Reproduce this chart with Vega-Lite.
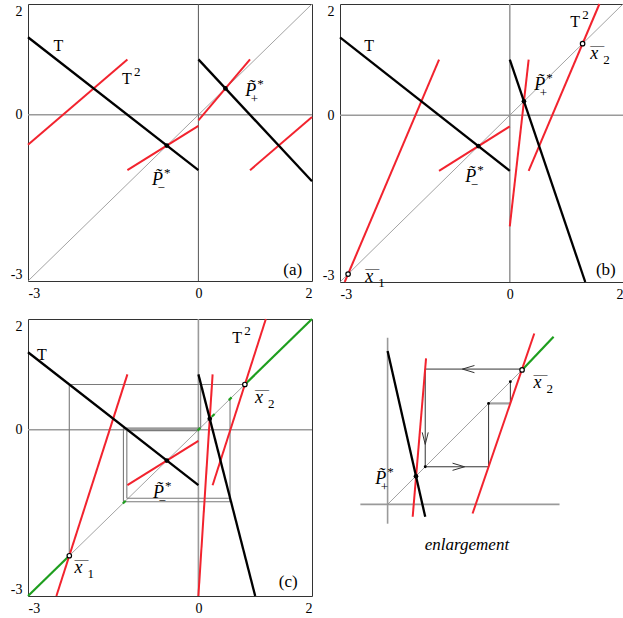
{
"$schema":"https://vega.github.io/schema/vega-lite/v6.json",
"background":"white",
"padding":{"left":9,"top":2,"right":0,"bottom":0},
"config":{"view":{"stroke":"#333","strokeWidth":1},"font":"'Liberation Serif', 'Times New Roman', Times, serif","text":{"color":"#000","font":"'Liberation Serif', 'Times New Roman', Times, serif"},"axis":{"labelFont":"'Liberation Serif', 'Times New Roman', Times, serif","labelFontSize":14,"labelColor":"#000"}},
"datasets":{
"seg":[
{"p":"a","k":"ax","x":-3,"y":0,"x2":2,"y2":0},
{"p":"a","k":"axd","x":0,"y":-3,"x2":0,"y2":2},
{"p":"a","k":"diag","x":-3,"y":-3,"x2":2,"y2":2},
{"p":"a","k":"T2","x":-3,"y":-0.54,"x2":-1.25,"y2":1.0},
{"p":"a","k":"T2","x":-1.25,"y":-1.0,"x2":0,"y2":-0.2},
{"p":"a","k":"T2","x":0,"y":-0.1,"x2":0.909,"y2":1.0},
{"p":"a","k":"T2","x":0.909,"y":-1.0,"x2":2,"y2":-0.04},
{"p":"a","k":"T","x":-3,"y":1.4,"x2":0,"y2":-1.0},
{"p":"a","k":"T","x":0,"y":1.0,"x2":2,"y2":-1.2},
{"p":"b","k":"ax","x":-3,"y":0,"x2":2,"y2":0},
{"p":"b","k":"ax","x":0,"y":-3,"x2":0,"y2":2},
{"p":"b","k":"diag","x":-3,"y":-3,"x2":2,"y2":2},
{"p":"b","k":"T2","x":-2.917,"y":-3,"x2":-1.25,"y2":1.0},
{"p":"b","k":"T2","x":-1.25,"y":-1.0,"x2":0,"y2":-0.2},
{"p":"b","k":"T2","x":0,"y":-2.0,"x2":0.333,"y2":1.0},
{"p":"b","k":"T2","x":0.333,"y":-1.0,"x2":1.583,"y2":2.0},
{"p":"b","k":"T","x":-3,"y":1.4,"x2":0,"y2":-1.0},
{"p":"b","k":"T","x":0,"y":1.0,"x2":1.333,"y2":-3},
{"p":"c","k":"ax","x":-3,"y":0,"x2":2,"y2":0},
{"p":"c","k":"ax","x":0,"y":-3,"x2":0,"y2":2},
{"p":"c","k":"diag","x":-3,"y":-3,"x2":2,"y2":2},
{"p":"c","k":"cob","x":-2.273,"y":-2.273,"x2":-2.273,"y2":0.818},
{"p":"c","k":"cob","x":-2.273,"y":0.818,"x2":0.818,"y2":0.818},
{"p":"c","k":"cob","x":-1.32,"y":-1.3,"x2":-1.32,"y2":0.03},
{"p":"c","k":"cob","x":-1.32,"y":0.03,"x2":0.03,"y2":0.03},
{"p":"c","k":"cob","x":0.04,"y":0.03,"x2":0.04,"y2":0.818},
{"p":"c","k":"cob","x":-1.32,"y":-1.3,"x2":0.557,"y2":-1.3},
{"p":"c","k":"cob","x":0.557,"y":0.557,"x2":0.557,"y2":-1.3},
{"p":"c","k":"cob","x":-1.26,"y":-1.235,"x2":-1.26,"y2":-0.015},
{"p":"c","k":"cob","x":-1.26,"y":-0.015,"x2":-0.015,"y2":-0.015},
{"p":"c","k":"cob","x":-1.26,"y":-1.235,"x2":0.557,"y2":-1.235},
{"p":"c","k":"green","x":-3,"y":-3,"x2":-2.273,"y2":-2.273},
{"p":"c","k":"green","x":0.818,"y":0.818,"x2":2,"y2":2},
{"p":"c","k":"green","x":-1.33,"y":-1.33,"x2":-1.28,"y2":-1.28},
{"p":"c","k":"green","x":-0.015,"y":-0.015,"x2":0.035,"y2":0.035},
{"p":"c","k":"green","x":0.235,"y":0.235,"x2":0.285,"y2":0.285},
{"p":"c","k":"green","x":0.535,"y":0.535,"x2":0.585,"y2":0.585},
{"p":"c","k":"T2","x":-2.5,"y":-3,"x2":-1.25,"y2":1.0},
{"p":"c","k":"T2","x":-1.25,"y":-1.0,"x2":0,"y2":-0.2},
{"p":"c","k":"T2","x":0,"y":-3,"x2":0.25,"y2":1.0},
{"p":"c","k":"T2","x":0.25,"y":-1.0,"x2":1.1875,"y2":2.0},
{"p":"c","k":"T","x":-3,"y":1.4,"x2":0,"y2":-1.0},
{"p":"c","k":"T","x":0,"y":1.0,"x2":1.0,"y2":-3},
{"p":"e","k":"ax","x":0,"y":-0.117,"x2":0,"y2":1.01},
{"p":"e","k":"ax","x":-0.165,"y":0,"x2":1.042,"y2":0},
{"p":"e","k":"diag","x":0,"y":0,"x2":0.815,"y2":0.815},
{"p":"e","k":"cobk","x":0.228,"y":0.82,"x2":0.815,"y2":0.82},
{"p":"e","k":"cobk","x":0.228,"y":0.82,"x2":0.228,"y2":0.228},
{"p":"e","k":"cobk","x":0.228,"y":0.228,"x2":0.612,"y2":0.228},
{"p":"e","k":"cobk","x":0.612,"y":0.228,"x2":0.612,"y2":0.612},
{"p":"e","k":"cobg","x":0.612,"y":0.612,"x2":0.744,"y2":0.612},
{"p":"e","k":"cobk","x":0.744,"y":0.612,"x2":0.744,"y2":0.744},
{"p":"e","k":"green","x":0.815,"y":0.815,"x2":1.006,"y2":1.016},
{"p":"e","k":"T2","x":0.233,"y":0.885,"x2":0.152,"y2":-0.075},
{"p":"e","k":"T2","x":0.889,"y":1.036,"x2":0.515,"y2":-0.055},
{"p":"e","k":"T","x":0,"y":0.93,"x2":0.228,"y2":-0.075}
],
"pts":[
{"p":"a","k":"fix","x":-0.556,"y":-0.556},
{"p":"a","k":"fix","x":0.476,"y":0.476},
{"p":"b","k":"fix","x":-0.556,"y":-0.556},
{"p":"b","k":"fix","x":0.25,"y":0.25},
{"p":"b","k":"cyc","x":-2.857,"y":-2.857},
{"p":"b","k":"cyc","x":1.286,"y":1.286},
{"p":"c","k":"fix","x":-0.556,"y":-0.556},
{"p":"c","k":"fix","x":0.2,"y":0.2},
{"p":"c","k":"cyc","x":-2.273,"y":-2.273},
{"p":"c","k":"cyc","x":0.818,"y":0.818},
{"p":"e","k":"fix","x":0.172,"y":0.17},
{"p":"e","k":"cyc","x":0.815,"y":0.815},
{"p":"e","k":"dot","x":0.228,"y":0.228},
{"p":"e","k":"dot","x":0.612,"y":0.612},
{"p":"e","k":"dot","x":0.744,"y":0.744}
],
"arrows":[
{"p":"e","dir":"left","x":0.49,"y":0.82},
{"p":"e","dir":"down","x":0.228,"y":0.4},
{"p":"e","dir":"right","x":0.43,"y":0.228}
],
"lab":[
{"p":"a","x":-2.549,"y":1.146,"rom":"T"},
{"p":"a","x":-1.345,"y":0.561,"rom":"T","sup":"2"},
{"p":"a","x":0.826,"y":0.334,"it":"P̃","sup":"*","sub":"+"},
{"p":"a","x":-0.817,"y":-1.273,"it":"P̃","sup":"*","sub":"−"},
{"p":"a","x":1.662,"y":-2.883,"tag":"(a)"},
{"p":"b","x":-2.571,"y":1.155,"rom":"T"},
{"p":"b","x":1.069,"y":1.586,"rom":"T","sup":"2"},
{"p":"b","x":1.422,"y":1.016,"it":"x","idx":"2","ov":"—"},
{"p":"b","x":0.433,"y":0.448,"it":"P̃","sup":"*","sub":"+"},
{"p":"b","x":-0.786,"y":-1.201,"it":"P̃","sup":"*","sub":"−"},
{"p":"b","x":-2.553,"y":-3.0,"it":"x","idx":"1","ov":"—"},
{"p":"b","x":1.696,"y":-2.88,"tag":"(b)"},
{"p":"c","x":-2.841,"y":1.26,"rom":"T"},
{"p":"c","x":0.597,"y":1.56,"rom":"T","sup":"2"},
{"p":"c","x":0.998,"y":0.489,"it":"x","idx":"2","ov":"—"},
{"p":"c","x":-2.182,"y":-2.592,"it":"x","idx":"1","ov":"—"},
{"p":"c","x":-0.799,"y":-1.238,"it":"P̃","sup":"*","sub":"−"},
{"p":"c","x":1.581,"y":-2.832,"tag":"(c)"},
{"p":"e","x":0.885,"y":0.703,"it":"x","idx":"2","ov":"—"},
{"p":"e","x":-0.075,"y":0.121,"it":"P̃","sup":"*","sub":"+"},
{"p":"e","x":0.481,"y":-0.276,"cap":"enlargement"}
]
},
"columns":2,
"spacing":{"row":37,"column":28},
"bounds":"flush",
"resolve":{"scale":{"x":"independent","y":"independent"}},
"concat":[
{"width":284,"height":277,"layer":[
{"data":{"name":"seg"},"transform":[{"filter":"datum.p=='a'"}],"mark":"rule","encoding":{
"x":{"field":"x","type":"quantitative","scale":{"domain":[-3,2],"nice":false,"zero":false},"axis":{"values":[-3,0,2],"ticks":false,"domain":false,"grid":false,"title":null,"labelExpr":"''+datum.value","labelPadding":5}},
"y":{"field":"y","type":"quantitative","scale":{"domain":[-3,2],"nice":false,"zero":false},"axis":{"values":[-3,0,2],"ticks":false,"domain":false,"grid":false,"title":null,"labelExpr":"''+datum.value","labelPadding":6,"labelFlush":true}},
"x2":{"field":"x2"},"y2":{"field":"y2"},
"color":{"field":"k","type":"nominal","scale":{"domain":["ax","axd","diag","cob","cobk","cobg","green","T","T2"],"range":["#9a9a9a","#555555","#8c8c8c","#7a7a7a","#333333","#a0a0a0","#1e9e1e","#000000","#f2232e"]},"legend":null},
"strokeWidth":{"field":"k","type":"ordinal","scale":{"type":"ordinal","domain":["ax","axd","diag","cob","cobk","cobg","green","T","T2"],"range":[1.6,1,0.8,1.1,1,2.2,2.2,2.3,2]},"legend":null}}},
{"data":{"name":"pts"},"transform":[{"filter":"datum.p=='a' && datum.k=='fix'"}],"mark":{"type":"point","filled":true,"color":"#000","size":22,"opacity":1},"encoding":{"x":{"field":"x","type":"quantitative"},"y":{"field":"y","type":"quantitative"}}},
{"data":{"name":"lab"},"transform":[{"filter":"datum.p=='a' && datum.rom"}],"mark":{"type":"text","align":"left","baseline":"alphabetic","fontSize":16},"encoding":{"x":{"field":"x","type":"quantitative"},"y":{"field":"y","type":"quantitative"},"text":{"field":"rom","type":"nominal"}}},
{"data":{"name":"lab"},"transform":[{"filter":"datum.p=='a' && datum.it"}],"mark":{"type":"text","align":"left","baseline":"alphabetic","fontSize":18,"fontStyle":"italic"},"encoding":{"x":{"field":"x","type":"quantitative"},"y":{"field":"y","type":"quantitative"},"text":{"field":"it","type":"nominal"}}},
{"data":{"name":"lab"},"transform":[{"filter":"datum.p=='a' && datum.sup"}],"mark":{"type":"text","align":"left","baseline":"alphabetic","fontSize":13,"dx":12,"dy":-8},"encoding":{"x":{"field":"x","type":"quantitative"},"y":{"field":"y","type":"quantitative"},"text":{"field":"sup","type":"nominal"}}},
{"data":{"name":"lab"},"transform":[{"filter":"datum.p=='a' && datum.sub"}],"mark":{"type":"text","align":"left","baseline":"alphabetic","fontSize":13,"dx":5.5,"dy":7},"encoding":{"x":{"field":"x","type":"quantitative"},"y":{"field":"y","type":"quantitative"},"text":{"field":"sub","type":"nominal"}}},
{"data":{"name":"lab"},"transform":[{"filter":"datum.p=='a' && datum.tag"}],"mark":{"type":"text","align":"center","baseline":"alphabetic","fontSize":17},"encoding":{"x":{"field":"x","type":"quantitative"},"y":{"field":"y","type":"quantitative"},"text":{"field":"tag","type":"nominal"}}}
]},
{"width":283,"height":278,"layer":[
{"data":{"name":"seg"},"transform":[{"filter":"datum.p=='b'"}],"mark":"rule","encoding":{
"x":{"field":"x","type":"quantitative","scale":{"domain":[-3,2],"nice":false,"zero":false},"axis":{"values":[-3,0,2],"ticks":false,"domain":false,"grid":false,"title":null,"labelExpr":"''+datum.value","labelPadding":5}},
"y":{"field":"y","type":"quantitative","scale":{"domain":[-3,2],"nice":false,"zero":false},"axis":{"values":[-3,0,2],"ticks":false,"domain":false,"grid":false,"title":null,"labelExpr":"''+datum.value","labelPadding":6,"labelFlush":true}},
"x2":{"field":"x2"},"y2":{"field":"y2"},
"color":{"field":"k","type":"nominal","scale":{"domain":["ax","axd","diag","cob","cobk","cobg","green","T","T2"],"range":["#9a9a9a","#555555","#8c8c8c","#7a7a7a","#333333","#a0a0a0","#1e9e1e","#000000","#f2232e"]},"legend":null},
"strokeWidth":{"field":"k","type":"ordinal","scale":{"type":"ordinal","domain":["ax","axd","diag","cob","cobk","cobg","green","T","T2"],"range":[1.6,1,0.8,1.1,1,2.2,2.2,2.3,2]},"legend":null}}},
{"data":{"name":"pts"},"transform":[{"filter":"datum.p=='b' && datum.k=='fix'"}],"mark":{"type":"point","filled":true,"color":"#000","size":22,"opacity":1},"encoding":{"x":{"field":"x","type":"quantitative"},"y":{"field":"y","type":"quantitative"}}},
{"data":{"name":"pts"},"transform":[{"filter":"datum.p=='b' && datum.k=='cyc'"}],"mark":{"type":"point","fill":"#fff","stroke":"#000","strokeWidth":1.2,"size":20,"opacity":1},"encoding":{"x":{"field":"x","type":"quantitative"},"y":{"field":"y","type":"quantitative"}}},
{"data":{"name":"lab"},"transform":[{"filter":"datum.p=='b' && datum.rom"}],"mark":{"type":"text","align":"left","baseline":"alphabetic","fontSize":16},"encoding":{"x":{"field":"x","type":"quantitative"},"y":{"field":"y","type":"quantitative"},"text":{"field":"rom","type":"nominal"}}},
{"data":{"name":"lab"},"transform":[{"filter":"datum.p=='b' && datum.it"}],"mark":{"type":"text","align":"left","baseline":"alphabetic","fontSize":18,"fontStyle":"italic"},"encoding":{"x":{"field":"x","type":"quantitative"},"y":{"field":"y","type":"quantitative"},"text":{"field":"it","type":"nominal"}}},
{"data":{"name":"lab"},"transform":[{"filter":"datum.p=='b' && datum.sup"}],"mark":{"type":"text","align":"left","baseline":"alphabetic","fontSize":13,"dx":12,"dy":-8},"encoding":{"x":{"field":"x","type":"quantitative"},"y":{"field":"y","type":"quantitative"},"text":{"field":"sup","type":"nominal"}}},
{"data":{"name":"lab"},"transform":[{"filter":"datum.p=='b' && datum.sub"}],"mark":{"type":"text","align":"left","baseline":"alphabetic","fontSize":13,"dx":5.5,"dy":7},"encoding":{"x":{"field":"x","type":"quantitative"},"y":{"field":"y","type":"quantitative"},"text":{"field":"sub","type":"nominal"}}},
{"data":{"name":"lab"},"transform":[{"filter":"datum.p=='b' && datum.idx"}],"mark":{"type":"text","align":"left","baseline":"alphabetic","fontSize":13,"dx":13,"dy":5},"encoding":{"x":{"field":"x","type":"quantitative"},"y":{"field":"y","type":"quantitative"},"text":{"field":"idx","type":"nominal"}}},
{"data":{"name":"lab"},"transform":[{"filter":"datum.p=='b' && datum.ov"}],"mark":{"type":"text","align":"left","baseline":"alphabetic","fontSize":14,"dx":0,"dy":-9},"encoding":{"x":{"field":"x","type":"quantitative"},"y":{"field":"y","type":"quantitative"},"text":{"field":"ov","type":"nominal"}}},
{"data":{"name":"lab"},"transform":[{"filter":"datum.p=='b' && datum.tag"}],"mark":{"type":"text","align":"center","baseline":"alphabetic","fontSize":17},"encoding":{"x":{"field":"x","type":"quantitative"},"y":{"field":"y","type":"quantitative"},"text":{"field":"tag","type":"nominal"}}}
]},
{"width":284,"height":277,"layer":[
{"data":{"name":"seg"},"transform":[{"filter":"datum.p=='c'"}],"mark":"rule","encoding":{
"x":{"field":"x","type":"quantitative","scale":{"domain":[-3,2],"nice":false,"zero":false},"axis":{"values":[-3,0,2],"ticks":false,"domain":false,"grid":false,"title":null,"labelExpr":"''+datum.value","labelPadding":5}},
"y":{"field":"y","type":"quantitative","scale":{"domain":[-3,2],"nice":false,"zero":false},"axis":{"values":[-3,0,2],"ticks":false,"domain":false,"grid":false,"title":null,"labelExpr":"''+datum.value","labelPadding":6,"labelFlush":true}},
"x2":{"field":"x2"},"y2":{"field":"y2"},
"color":{"field":"k","type":"nominal","scale":{"domain":["ax","axd","diag","cob","cobk","cobg","green","T","T2"],"range":["#9a9a9a","#555555","#8c8c8c","#7a7a7a","#333333","#a0a0a0","#1e9e1e","#000000","#f2232e"]},"legend":null},
"strokeWidth":{"field":"k","type":"ordinal","scale":{"type":"ordinal","domain":["ax","axd","diag","cob","cobk","cobg","green","T","T2"],"range":[1.6,1,0.8,1.1,1,2.2,2.2,2.3,2]},"legend":null}}},
{"data":{"name":"pts"},"transform":[{"filter":"datum.p=='c' && datum.k=='fix'"}],"mark":{"type":"point","filled":true,"color":"#000","size":22,"opacity":1},"encoding":{"x":{"field":"x","type":"quantitative"},"y":{"field":"y","type":"quantitative"}}},
{"data":{"name":"pts"},"transform":[{"filter":"datum.p=='c' && datum.k=='cyc'"}],"mark":{"type":"point","fill":"#fff","stroke":"#000","strokeWidth":1.2,"size":20,"opacity":1},"encoding":{"x":{"field":"x","type":"quantitative"},"y":{"field":"y","type":"quantitative"}}},
{"data":{"name":"lab"},"transform":[{"filter":"datum.p=='c' && datum.rom"}],"mark":{"type":"text","align":"left","baseline":"alphabetic","fontSize":16},"encoding":{"x":{"field":"x","type":"quantitative"},"y":{"field":"y","type":"quantitative"},"text":{"field":"rom","type":"nominal"}}},
{"data":{"name":"lab"},"transform":[{"filter":"datum.p=='c' && datum.it"}],"mark":{"type":"text","align":"left","baseline":"alphabetic","fontSize":18,"fontStyle":"italic"},"encoding":{"x":{"field":"x","type":"quantitative"},"y":{"field":"y","type":"quantitative"},"text":{"field":"it","type":"nominal"}}},
{"data":{"name":"lab"},"transform":[{"filter":"datum.p=='c' && datum.sup"}],"mark":{"type":"text","align":"left","baseline":"alphabetic","fontSize":13,"dx":12,"dy":-8},"encoding":{"x":{"field":"x","type":"quantitative"},"y":{"field":"y","type":"quantitative"},"text":{"field":"sup","type":"nominal"}}},
{"data":{"name":"lab"},"transform":[{"filter":"datum.p=='c' && datum.sub"}],"mark":{"type":"text","align":"left","baseline":"alphabetic","fontSize":13,"dx":5.5,"dy":7},"encoding":{"x":{"field":"x","type":"quantitative"},"y":{"field":"y","type":"quantitative"},"text":{"field":"sub","type":"nominal"}}},
{"data":{"name":"lab"},"transform":[{"filter":"datum.p=='c' && datum.idx"}],"mark":{"type":"text","align":"left","baseline":"alphabetic","fontSize":13,"dx":13,"dy":5},"encoding":{"x":{"field":"x","type":"quantitative"},"y":{"field":"y","type":"quantitative"},"text":{"field":"idx","type":"nominal"}}},
{"data":{"name":"lab"},"transform":[{"filter":"datum.p=='c' && datum.ov"}],"mark":{"type":"text","align":"left","baseline":"alphabetic","fontSize":14,"dx":0,"dy":-9},"encoding":{"x":{"field":"x","type":"quantitative"},"y":{"field":"y","type":"quantitative"},"text":{"field":"ov","type":"nominal"}}},
{"data":{"name":"lab"},"transform":[{"filter":"datum.p=='c' && datum.tag"}],"mark":{"type":"text","align":"center","baseline":"alphabetic","fontSize":17},"encoding":{"x":{"field":"x","type":"quantitative"},"y":{"field":"y","type":"quantitative"},"text":{"field":"tag","type":"nominal"}}}
]},
{"width":283,"height":277,"view":{"stroke":null},"layer":[
{"data":{"name":"seg"},"transform":[{"filter":"datum.p=='e'"}],"mark":"rule","encoding":{
"x":{"field":"x","type":"quantitative","scale":{"domain":[-0.2885,1.4267],"nice":false,"zero":false},"axis":null},
"y":{"field":"y","type":"quantitative","scale":{"domain":[-0.5552,1.1236],"nice":false,"zero":false},"axis":null},
"x2":{"field":"x2"},"y2":{"field":"y2"},
"color":{"field":"k","type":"nominal","scale":{"domain":["ax","axd","diag","cob","cobk","cobg","green","T","T2"],"range":["#9a9a9a","#555555","#8c8c8c","#7a7a7a","#333333","#a0a0a0","#1e9e1e","#000000","#f2232e"]},"legend":null},
"strokeWidth":{"field":"k","type":"ordinal","scale":{"type":"ordinal","domain":["ax","axd","diag","cob","cobk","cobg","green","T","T2"],"range":[1.6,1,0.8,1.1,1,2.2,2.2,2.3,2]},"legend":null}}},
{"data":{"name":"arrows"},"mark":{"type":"point","filled":false,"stroke":"#333","strokeWidth":1,"size":144,"opacity":1},"encoding":{"x":{"field":"x","type":"quantitative"},"y":{"field":"y","type":"quantitative"},"shape":{"field":"dir","type":"nominal","scale":{"domain":["left","right","down"],"range":["M1,-0.6L-1,0L1,0.6","M-1,-0.6L1,0L-1,0.6","M-0.5,-1L0,1L0.5,-1"]},"legend":null}}},
{"data":{"name":"pts"},"transform":[{"filter":"datum.p=='e' && datum.k=='fix'"}],"mark":{"type":"point","filled":true,"color":"#000","size":22,"opacity":1},"encoding":{"x":{"field":"x","type":"quantitative"},"y":{"field":"y","type":"quantitative"}}},
{"data":{"name":"pts"},"transform":[{"filter":"datum.p=='e' && datum.k=='dot'"}],"mark":{"type":"point","filled":true,"color":"#000","size":8,"opacity":1},"encoding":{"x":{"field":"x","type":"quantitative"},"y":{"field":"y","type":"quantitative"}}},
{"data":{"name":"pts"},"transform":[{"filter":"datum.p=='e' && datum.k=='cyc'"}],"mark":{"type":"point","fill":"#fff","stroke":"#000","strokeWidth":1.2,"size":20,"opacity":1},"encoding":{"x":{"field":"x","type":"quantitative"},"y":{"field":"y","type":"quantitative"}}},
{"data":{"name":"lab"},"transform":[{"filter":"datum.p=='e' && datum.it"}],"mark":{"type":"text","align":"left","baseline":"alphabetic","fontSize":18,"fontStyle":"italic"},"encoding":{"x":{"field":"x","type":"quantitative"},"y":{"field":"y","type":"quantitative"},"text":{"field":"it","type":"nominal"}}},
{"data":{"name":"lab"},"transform":[{"filter":"datum.p=='e' && datum.sup"}],"mark":{"type":"text","align":"left","baseline":"alphabetic","fontSize":13,"dx":12,"dy":-8},"encoding":{"x":{"field":"x","type":"quantitative"},"y":{"field":"y","type":"quantitative"},"text":{"field":"sup","type":"nominal"}}},
{"data":{"name":"lab"},"transform":[{"filter":"datum.p=='e' && datum.sub"}],"mark":{"type":"text","align":"left","baseline":"alphabetic","fontSize":13,"dx":5.5,"dy":7},"encoding":{"x":{"field":"x","type":"quantitative"},"y":{"field":"y","type":"quantitative"},"text":{"field":"sub","type":"nominal"}}},
{"data":{"name":"lab"},"transform":[{"filter":"datum.p=='e' && datum.idx"}],"mark":{"type":"text","align":"left","baseline":"alphabetic","fontSize":13,"dx":13,"dy":5},"encoding":{"x":{"field":"x","type":"quantitative"},"y":{"field":"y","type":"quantitative"},"text":{"field":"idx","type":"nominal"}}},
{"data":{"name":"lab"},"transform":[{"filter":"datum.p=='e' && datum.ov"}],"mark":{"type":"text","align":"left","baseline":"alphabetic","fontSize":14,"dx":0,"dy":-9},"encoding":{"x":{"field":"x","type":"quantitative"},"y":{"field":"y","type":"quantitative"},"text":{"field":"ov","type":"nominal"}}},
{"data":{"name":"lab"},"transform":[{"filter":"datum.p=='e' && datum.cap"}],"mark":{"type":"text","align":"center","baseline":"alphabetic","fontSize":17,"fontStyle":"italic"},"encoding":{"x":{"field":"x","type":"quantitative"},"y":{"field":"y","type":"quantitative"},"text":{"field":"cap","type":"nominal"}}}
]}
]
}
